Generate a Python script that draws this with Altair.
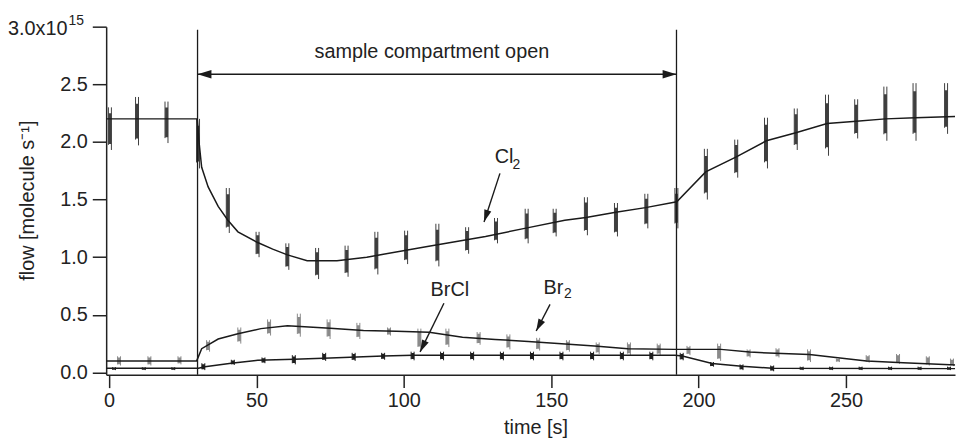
import math
import altair as alt
import pandas as pd

# ---------------- data ----------------
# smooth fitted lines (time [s], flow [1e15 molecule/s])
cl2_t = [-1, 29.9, 30.5, 31.4, 33.6, 37, 40.3, 43.7, 50.4, 55.5, 60.5, 67.2, 77.3, 87.4, 107.5,
         127.7, 141, 154.6, 161.8, 171.9, 182, 192.6, 202.4, 212.8, 223, 233, 243.6, 253.5,
         263.4, 273.5, 287]
cl2_v = [2.2, 2.2, 2.0, 1.78, 1.61, 1.44, 1.32, 1.22, 1.127, 1.07, 1.02, 0.97, 0.97, 1.0, 1.09,
         1.18, 1.25, 1.32, 1.345, 1.39, 1.43, 1.48, 1.74, 1.87, 2.01, 2.08, 2.16, 2.18,
         2.2, 2.21, 2.22]

br2_t = [-1, 29.7, 31.4, 37, 43.7, 51.5, 60.5, 75, 86.3, 97.5, 108.6, 119.9, 131, 142.2, 153.5,
         164.7, 176, 192, 207.6, 217.3, 226, 237.6, 248, 257, 269.4, 288]
br2_v = [0.1, 0.1, 0.206, 0.29, 0.335, 0.38, 0.405, 0.383, 0.363, 0.358, 0.349, 0.306, 0.286,
         0.269, 0.249, 0.229, 0.206, 0.2, 0.2, 0.177, 0.166, 0.155, 0.126, 0.1, 0.083, 0.063]

brcl_t = [-1, 30.3, 32.5, 41.4, 50.4, 62.7, 75, 93, 103, 192, 194.5, 204.6, 214.6, 225, 288]
brcl_v = [0.036, 0.036, 0.05, 0.08, 0.105, 0.115, 0.126, 0.143, 0.15, 0.15, 0.143, 0.077,
          0.054, 0.037, 0.033]

# noisy measurement bursts: time, min, max
cl2_bt = [0.3, 9.5, 19.5, 30.2, 40.3, 50.4, 60.5, 70.6, 80.6, 90.7, 100.8, 111.4, 121.5, 131.3,
          141.7, 151.2, 161.8, 172, 182.3, 192.5, 202.5, 212.8, 222.9, 233, 243.6, 253.5,
          263.4, 273.3, 284]
cl2_lo = [1.93, 1.97, 1.99, 1.77, 1.21, 1.0, 0.89, 0.81, 0.83, 0.85, 0.94, 0.92, 1.03, 1.12,
          1.12, 1.18, 1.19, 1.18, 1.25, 1.25, 1.5, 1.69, 1.77, 1.93, 1.88, 2.03, 2.01, 2.01, 2.07]
cl2_hi = [2.3, 2.39, 2.35, 2.2, 1.6, 1.22, 1.12, 1.08, 1.10, 1.22, 1.23, 1.29, 1.26, 1.34,
          1.42, 1.42, 1.52, 1.47, 1.55, 1.6, 1.94, 2.02, 2.21, 2.29, 2.41, 2.37, 2.48, 2.51, 2.51]

br2_bt = [3.4, 13.7, 23.9, 33.6, 44.2, 54.3, 64.4, 74.5, 84.6, 95, 105.3, 114.8, 125.4, 135.5,
          145.6, 155.7, 165.8, 176.4, 186.5, 196.6, 207, 217, 226.8, 237.5, 247.3, 257.4,
          267.7, 277.8, 286]
br2_lo = [0.06, 0.06, 0.07, 0.18, 0.25, 0.32, 0.31, 0.29, 0.29, 0.32, 0.2, 0.22, 0.24, 0.2,
          0.19, 0.18, 0.16, 0.15, 0.15, 0.15, 0.1, 0.13, 0.13, 0.09, 0.09, 0.085, 0.075, 0.06, 0.055]
br2_hi = [0.14, 0.14, 0.14, 0.28, 0.39, 0.46, 0.51, 0.46, 0.43, 0.39, 0.38, 0.38, 0.35, 0.33,
          0.3, 0.28, 0.26, 0.26, 0.25, 0.23, 0.25, 0.2, 0.21, 0.2, 0.12, 0.15, 0.16, 0.14, 0.12]

brcl_bt = [1.7, 11.8, 21.8, 32, 42, 52.4, 62.7, 73, 83, 93, 103, 113, 123.2, 133.3, 143.5,
           153.5, 163.9, 174, 184, 194.3, 204.6, 214.6, 225, 235, 245, 255, 265, 275, 285]
brcl_lo = [0.02, 0.02, 0.02, 0.02, 0.065, 0.08, 0.07, 0.1, 0.1, 0.11, 0.105, 0.105, 0.105,
           0.105, 0.105, 0.105, 0.105, 0.105, 0.105, 0.105, 0.05, 0.02, 0.01, 0.02, 0.02,
           0.02, 0.02, 0.02, 0.02]
brcl_hi = [0.045, 0.045, 0.045, 0.08, 0.11, 0.13, 0.15, 0.17, 0.17, 0.17, 0.18, 0.18, 0.18,
           0.18, 0.18, 0.18, 0.18, 0.18, 0.18, 0.17, 0.09, 0.07, 0.06, 0.05, 0.05, 0.05,
           0.05, 0.05, 0.05]

# sample compartment open interval
open_start, open_end = 30, 192.5

# annotation labels: (text, t, v, font size, align)
labels = [
    ("sample compartment open", 109.5, 2.725, 20, "center"),
    ("Cl", 130.8, 1.821, 20, "left"),
    ("2", 136.9, 1.761, 14, "left"),
    ("BrCl", 115.6, 0.664, 20, "center"),
    ("Br", 147.4, 0.677, 20, "left"),
    ("2", 154.3, 0.647, 14, "left"),
]
# annotation arrows: (t_start, v_start, t_tip, v_tip)
arrows = [
    (132.6, 1.727, 127.2, 1.305),
    (113.6, 0.600, 105.5, 0.178),
    (149.6, 0.591, 144.9, 0.359),
]
arrow_level = 2.587
vline_top = 2.974

# ---------------- layout ----------------
X_DOMAIN = [-1, 287]
Y_DOMAIN = [-0.02, 3.0]
W, H = 856, 351
SX = W / (X_DOMAIN[1] - X_DOMAIN[0])
SY = H / (Y_DOMAIN[1] - Y_DOMAIN[0])
FONT = "Liberation Sans"

xs = alt.Scale(domain=X_DOMAIN, nice=False, zero=False)
ys = alt.Scale(domain=Y_DOMAIN, nice=False, zero=False)

x_axis = alt.Axis(values=[0, 50, 100, 150, 200, 250], title="time [s]", grid=False,
                  tickSize=13, tickWidth=1.5, tickColor="#222", domainColor="#222",
                  domainWidth=1.5, labelFont=FONT, labelFontSize=20, labelColor="#222",
                  labelPadding=3, labelFlush=False, titleFont=FONT, titleFontSize=20,
                  titleFontWeight="normal", titleColor="#222", titleX=433, titleY=59,
                  titleBaseline="alphabetic", titleAlign="center")
y_axis = alt.Axis(values=[0, 0.5, 1, 1.5, 2, 2.5, 3],
                  labelExpr="datum.value > 2.99 ? '' : format(datum.value, '.1f')",
                  title="flow [molecule s\u207b\u00b9]", grid=False, tickSize=14, tickWidth=1.5,
                  tickColor="#222", domainColor="#222", domainWidth=1.5, labelFont=FONT,
                  labelFontSize=20, labelColor="#222", labelPadding=5, titleFont=FONT,
                  titleFontSize=20, titleFontWeight="normal", titleColor="#222",
                  titleAngle=270, titleX=-73, titleY=175, titleBaseline="alphabetic",
                  titleAlign="center")


def X(f="t"):
    return alt.X(f, type="quantitative", scale=xs, axis=x_axis)


def Y(f="v"):
    return alt.Y(f, type="quantitative", scale=ys, axis=y_axis)


# ---------------- tables ----------------
lines_df = pd.concat([
    pd.DataFrame({"t": cl2_t, "v": cl2_v, "s": "Cl2"}),
    pd.DataFrame({"t": br2_t, "v": br2_v, "s": "Br2"}),
    pd.DataFrame({"t": brcl_t, "v": brcl_v, "s": "BrCl"}),
])
bursts_df = pd.concat([
    pd.DataFrame({"t": cl2_bt, "v": cl2_lo, "hi": cl2_hi, "s": "Cl2"}),
    pd.DataFrame({"t": br2_bt, "v": br2_lo, "hi": br2_hi, "s": "Br2"}),
    pd.DataFrame({"t": brcl_bt, "v": brcl_lo, "hi": brcl_hi, "s": "BrCl"}),
])
color = alt.Color("s:N", scale=alt.Scale(domain=["Cl2", "Br2", "BrCl"],
                                         range=["#3e3e3e", "#8a8a8a", "#1e1e1e"]), legend=None)

# thin full-range spike, slightly offset, plus a dense core
burst_thin = alt.Chart(bursts_df).mark_rule(strokeWidth=1.0, clip=True, xOffset=1.4).encode(
    x=X(), y=Y(), y2="hi:Q", color=color)
burst_thin2 = alt.Chart(bursts_df).transform_calculate(
    lo2="datum.v + (datum.hi - datum.v) * 0.12"
).mark_rule(strokeWidth=1.0, clip=True, xOffset=-1.6).encode(
    x=X(), y=Y("lo2"), y2="hi:Q", color=color)
burst_core = alt.Chart(bursts_df).transform_calculate(
    mid="(datum.v + datum.hi) / 2", half="(datum.hi - datum.v) * 0.36"
).transform_calculate(
    clo="datum.mid - datum.half", chi="datum.mid + datum.half"
).mark_rule(strokeWidth=3.0, clip=True).encode(
    x=X(), y=Y("clo"), y2="chi:Q", color=color)

line_layer = alt.Chart(lines_df).mark_line(color="#1a1a1a", strokeWidth=1.5, clip=True).encode(
    x=X(), y=Y(), detail="s:N")

vl_df = pd.DataFrame({"t": [open_start, open_end], "v": [Y_DOMAIN[0]] * 2,
                      "top": [vline_top] * 2})
vlines = alt.Chart(vl_df).mark_rule(color="#1a1a1a", strokeWidth=1.3).encode(
    x=X(), y=Y(), y2="top:Q")

harrow_df = pd.DataFrame({"t": [open_start], "t2": [open_end], "v": [arrow_level]})
harrow = alt.Chart(harrow_df).mark_rule(color="#1a1a1a", strokeWidth=1.3).encode(
    x=X(), x2="t2:Q", y=Y())

HEAD = "M0,0L-1,-0.3L-1,0.3Z"
heads = [(open_start, arrow_level, 180.0), (open_end, arrow_level, 0.0)]
small_heads = []
seg_rows = []
for (t0, v0, t1, v1) in arrows:
    dx = (t1 - t0) * SX
    dy = -(v1 - v0) * SY
    ang = math.degrees(math.atan2(dy, dx)) % 360
    small_heads.append((t1, v1, ang))
    seg_rows.append({"t": t0, "v": v0, "t2": t1, "v2": v1})

heads_df = pd.DataFrame(heads, columns=["t", "v", "ang"])
big_heads = alt.Chart(heads_df).mark_point(shape=HEAD, size=784, filled=True, opacity=1,
                                           color="#1a1a1a", strokeWidth=0).encode(
    x=X(), y=Y(), angle=alt.Angle("ang:Q", scale=None))
sh_df = pd.DataFrame(small_heads, columns=["t", "v", "ang"])
sm_heads = alt.Chart(sh_df).mark_point(shape=HEAD, size=600, filled=True, opacity=1,
                                       color="#1a1a1a", strokeWidth=0).encode(
    x=X(), y=Y(), angle=alt.Angle("ang:Q", scale=None))
segs = alt.Chart(pd.DataFrame(seg_rows)).mark_rule(color="#1a1a1a", strokeWidth=1.4).encode(
    x=X(), y=Y(), x2="t2:Q", y2="v2:Q")

lab_df = pd.DataFrame(labels, columns=["txt", "t", "v", "fs", "al"])
text_layers = []
for al in ["left", "center"]:
    for fs in [20, 14]:
        sub = lab_df[(lab_df.al == al) & (lab_df.fs == fs)]
        if len(sub) == 0:
            continue
        text_layers.append(
            alt.Chart(sub).mark_text(font=FONT, fontSize=fs, align=al, baseline="alphabetic",
                                     color="#222").encode(x=X(), y=Y(), text="txt:N"))

# top tick label 3.0x10^15 (mantissa and exponent as separate text)
top_df = pd.DataFrame({"txt": ["3.0x10"], "exp": ["15"]})
top_lab = alt.Chart(top_df).mark_text(font=FONT, fontSize=20, align="right",
                                      baseline="alphabetic", color="#222").encode(
    x=alt.value(-39), y=alt.value(8), text="txt:N")
top_exp = alt.Chart(top_df).mark_text(font=FONT, fontSize=14, align="left",
                                      baseline="alphabetic", color="#222").encode(
    x=alt.value(-38), y=alt.value(-2), text="exp:N")

chart = alt.layer(
    burst_thin, burst_thin2, burst_core, line_layer, vlines, harrow, big_heads, segs, sm_heads,
    *text_layers, top_lab, top_exp
).properties(
    width=W, height=H, autosize=alt.AutoSizeParams(type="none"),
    padding={"left": 99, "top": 17, "right": 2, "bottom": 65},
    background="white"
).configure_view(stroke=None)

chart.save("out.html", embed_options={"renderer": "svg", "actions": False})
